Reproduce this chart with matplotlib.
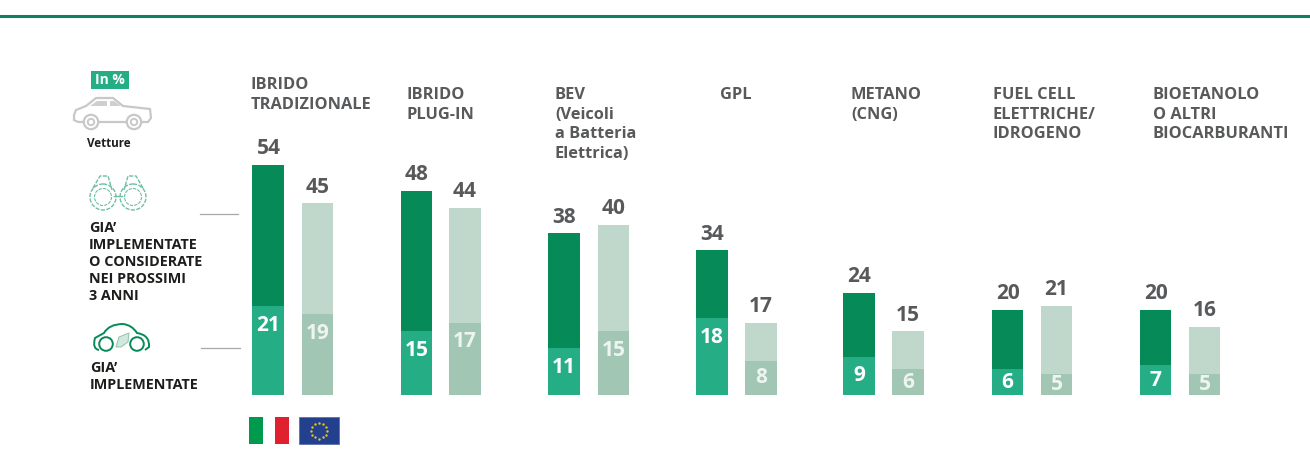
import matplotlib
matplotlib.use("Agg")
import matplotlib.pyplot as plt
from matplotlib.patches import Rectangle, Circle, Polygon, PathPatch
from matplotlib.path import Path
import numpy as np

plt.rcParams['font.family'] = ['Open Sans', 'DejaVu Sans']

# data
titles = ["IBRIDO\nTRADIZIONALE", "IBRIDO\nPLUG-IN", "BEV\n(Veicoli\na Batteria\nElettrica)", "GPL",
          "METANO\n(CNG)", "FUEL CELL\nELETTRICHE/\nIDROGENO", "BIOETANOLO\nO ALTRI\nBIOCARBURANTI"]
it_total = [54, 48, 38, 34, 24, 20, 20]
eu_total = [45, 44, 40, 17, 15, 21, 16]
it_now = [21, 15, 11, 18, 9, 6, 7]
eu_now = [19, 17, 15, 8, 6, 5, 5]

GREY = "#58595b"
DARK = "#1d1d1b"
W, H = 1310, 461
BASE = 395
PX = 4.26

fig = plt.figure(figsize=(13.10, 4.61), dpi=100)

# bars: y in percent, x in pixels
ax = fig.add_axes([0, 0, 1, 1])
ax.set_xlim(0, W)
ax.set_ylim(-(H - BASE) / PX, BASE / PX)
ax.axis("off")

x_it = np.array([268, 416.5, 564, 712, 859, 1007.5, 1155.5])
x_eu = np.array([317.5, 465, 613.5, 761, 908, 1056.5, 1204.5])
bw = 31.5

ax.bar(x_it, it_total, bw, color="#058a58")
ax.bar(x_it, it_now, bw, color="#25ae85")
ax.bar(x_eu, eu_total, bw, color="#bfd8cb")
ax.bar(x_eu, eu_now, bw, color="#a1c6b4")

for i in range(len(titles)):
    ax.text(x_it[i] + 0.5, it_total[i] + 1.3, str(it_total[i]), ha="center", va="bottom",
            fontsize=15, fontweight="bold", color=GREY)
    ax.text(x_eu[i], eu_total[i] + 1.3, str(eu_total[i]), ha="center", va="bottom",
            fontsize=15, fontweight="bold", color=GREY)
    ax.text(x_it[i], it_now[i] - 4.6 if it_now[i] > 9 else it_now[i] / 2, str(it_now[i]),
            ha="center", va="center", fontsize=15, fontweight="bold", color="white")
    ax.text(x_eu[i], eu_now[i] - 4.5 if eu_now[i] > 9 else eu_now[i] / 2, str(eu_now[i]),
            ha="center", va="center", fontsize=15, fontweight="bold", color="#eef5f1")

# overlay in pixel coordinates for the infographic parts
ov = fig.add_axes([0, 0, 1, 1])
ov.set_xlim(0, W)
ov.set_ylim(H, 0)
ov.axis("off")

ov.plot([0, W], [16, 16], color="#0f8060", lw=2.2)

title_x = [251, 407, 555, 720, 851, 993, 1153]
title_y = [77, 87, 87, 87, 87, 87, 87]
for t, x, y in zip(titles, title_x, title_y):
    ov.text(x, y, t, ha="left", va="top", fontsize=11.8, fontweight="bold", color=GREY, linespacing=1.31)

# In % tag
ov.add_patch(Rectangle((91, 71), 38, 18, color="#25ae85", lw=0))
ov.text(110, 80, "In %", ha="center", va="center", fontsize=10, fontweight="bold", color="white")

# grey car
car = [(74, 115), (74, 120), (78, 122), (148, 122), (151, 118), (150, 109), (123, 106),
       (113, 98), (96, 98), (86, 106), (76, 110)]
ov.add_patch(Polygon(car, closed=True, fc="white", ec="#c8c8c8", lw=1.6))
ov.add_patch(Polygon([(97, 101), (107, 101), (107, 106), (90, 106)], fc="#cfcfcf", lw=0))
ov.add_patch(Polygon([(110, 101), (114, 101), (121, 106), (110, 106)], fc="#cfcfcf", lw=0))
for cx in (91, 134):
    ov.add_patch(Circle((cx, 122), 7.2, fc="white", ec="#c8c8c8", lw=1.6))
    ov.add_patch(Circle((cx, 122), 3.2, fc="white", ec="#c8c8c8", lw=1.4))
ov.text(109, 143, "Vetture", ha="center", va="center", fontsize=8.4, fontweight="bold", color=DARK)

# binoculars
for cx in (103, 133):
    ov.add_patch(Circle((cx, 197), 13, fc="none", ec="#6fbfa2", lw=1, ls=(0, (3, 1))))
    ov.add_patch(Circle((cx, 197), 8.5, fc="none", ec="#6fbfa2", lw=0.8, ls=(0, (3, 1))))
ov.plot([93, 100, 108, 112], [188, 176, 176, 190], color="#6fbfa2", lw=1, ls=(0, (3, 1)))
ov.plot([143, 136, 128, 124], [188, 176, 176, 190], color="#6fbfa2", lw=1, ls=(0, (3, 1)))
ov.plot([114, 122], [196, 196], color="#6fbfa2", lw=1)

ov.text(89, 220.5, "GIA’\nIMPLEMENTATE\nO CONSIDERATE\nNEI PROSSIMI\n3 ANNI", ha="left", va="top",
        fontsize=10.4, fontweight="bold", color=DARK, linespacing=1.29)

# green car
body = Path([(99, 350), (92, 349), (95, 338), (104, 333), (109, 324), (123, 324), (132, 325), (137, 333),
             (150, 335), (149, 347), (145, 350)],
            [Path.MOVETO, Path.CURVE3, Path.CURVE3, Path.LINETO, Path.CURVE3, Path.CURVE3, Path.CURVE3,
             Path.LINETO, Path.CURVE3, Path.CURVE3, Path.LINETO])
ov.add_patch(PathPatch(body, fc="none", ec="#058a58", lw=1.4))
for cx in (106, 137):
    ov.add_patch(Circle((cx, 344), 6.8, fc="white", ec="#058a58", lw=1.4))
ov.add_patch(Polygon([(116, 347), (119, 337), (129, 333), (128, 342), (121, 347)], fc="#d3e7dd", ec="#8fc4ab", lw=0.7))
ov.text(90, 361, "GIA’\nIMPLEMENTATE", ha="left", va="top", fontsize=10.4, fontweight="bold",
        color=DARK, linespacing=1.29)

# leader lines
ov.plot([200, 238], [214, 214], color="#a8a8a8", lw=0.9)
ov.plot([201, 240], [348, 348], color="#a8a8a8", lw=0.9)

# flags
ov.add_patch(Rectangle((249, 417), 13.5, 27, color="#009a4e", lw=0))
ov.add_patch(Rectangle((275, 417), 14, 27, color="#e0202e", lw=0))
ov.add_patch(Rectangle((299, 417), 40, 27, fc="#23408f", ec="#5a70b0", lw=0.6))
stars = np.deg2rad(np.arange(0, 360, 30))
ov.scatter(319 + 8 * np.cos(stars), 430.5 + 8 * np.sin(stars), s=3, color="#f2c21a", lw=0)

fig.savefig("out.png", dpi=100)
